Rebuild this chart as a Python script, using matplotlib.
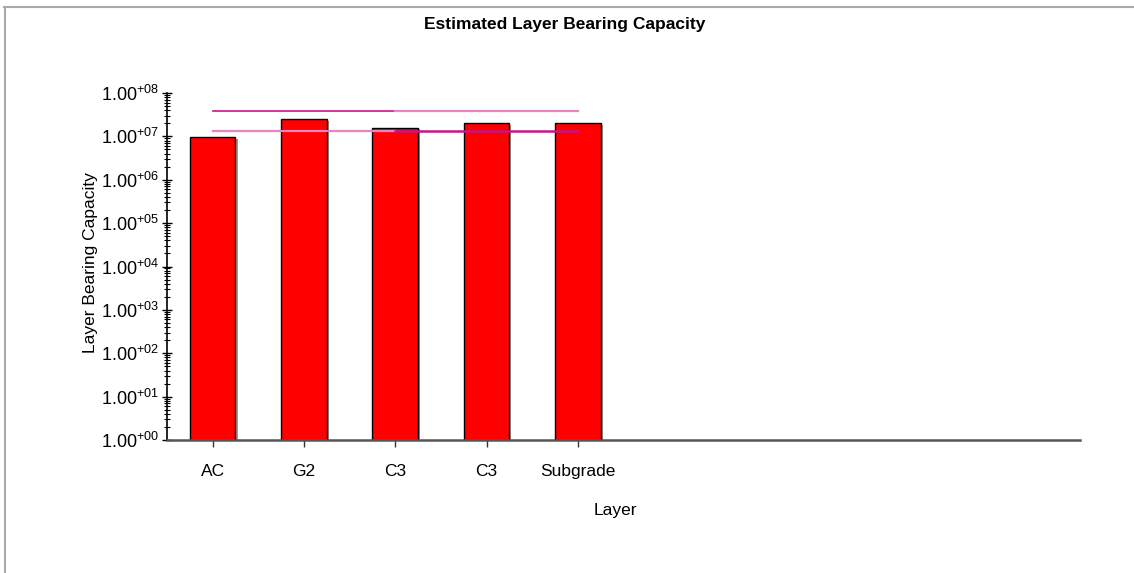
import matplotlib
matplotlib.use('Agg')
import matplotlib.pyplot as plt
import matplotlib.patheffects as pe
from matplotlib.lines import Line2D
from matplotlib.ticker import LogLocator, FixedLocator, NullFormatter

# capas del pavimento y capacidad estimada
capas = ['AC', 'G2', 'C3', 'C3', 'Subgrade']
capacidad = [9.5e6, 2.5e7, 1.6e7, 2.0e7, 2.0e7]

# lineas de referencia (dos tramos cada una)
ref_x = [0, 2, 4]
ref_alta = [3.8e7, 3.8e7, 3.8e7]
ref_baja = [1.35e7, 1.35e7, 1.35e7]

exponentes = [0, 1, 2, 3, 4, 5, 6, 7, 8]

plt.rcParams['font.family'] = ['Liberation Sans', 'DejaVu Sans']
plt.rcParams['mathtext.fontset'] = 'custom'
plt.rcParams['mathtext.rm'] = 'Liberation Sans'

fig = plt.figure(figsize=(11.34, 5.73), dpi=100)
ax = fig.add_axes([167/1134, 1 - 440/573, (1080 - 167)/1134, (440 - 93)/573])

x = list(range(len(capas)))
ax.bar(x, capacidad, width=0.5, color='#ff0000', edgecolor='black', linewidth=1.0,
       zorder=2,
       path_effects=[pe.SimplePatchShadow(offset=(1.5, -1.0), shadow_rgbFace='#999999', alpha=1.0),
                     pe.Normal()])

# tramos de las lineas
ax.plot(ref_x[:2], ref_alta[:2], color='#c71585', lw=1.2, zorder=3)
ax.plot(ref_x[1:], ref_alta[1:], color='#e685bf', lw=1.6, zorder=3)
ax.plot(ref_x[:2], ref_baja[:2], color='#e685bf', lw=1.6, zorder=3)
ax.plot(ref_x[1:], ref_baja[1:], color='#c71585', lw=1.8, zorder=3)

ax.set_yscale('log')
ax.set_ylim(1, 1e8)
ax.set_xlim(-0.5, 9.5)

ax.yaxis.set_major_locator(FixedLocator([10.0**e for e in exponentes]))
ax.set_yticklabels(['1.00$^{\\mathregular{+%02d}}$' % e for e in exponentes], fontsize=13)
ax.yaxis.set_minor_locator(LogLocator(base=10, subs=range(2, 10), numticks=50))
ax.yaxis.set_minor_formatter(NullFormatter())
ax.tick_params(axis='y', which='major', direction='inout', length=7, width=1, pad=2)
ax.tick_params(axis='y', which='minor', direction='inout', length=5, width=0.8)

ax.set_xticks(x)
ax.set_xticklabels(capas, fontsize=12.5)
ax.tick_params(axis='x', direction='out', length=5, width=1, pad=12, color='#333333')

for s in ['top', 'right']:
    ax.spines[s].set_visible(False)
ax.spines['left'].set_color('black')
ax.spines['left'].set_linewidth(1.2)
ax.spines['bottom'].set_color('#555555')
ax.spines['bottom'].set_linewidth(1.8)

fig.text(565/1134, 1 - 25/573, 'Estimated Layer Bearing Capacity', ha='center', va='center',
         fontsize=12.5, fontweight='bold')
fig.text(615/1134, 1 - 511/573, 'Layer', ha='center', va='center', fontsize=12.5)
fig.text(90/1134, 1 - 263/573, 'Layer Bearing Capacity', ha='center', va='center',
         rotation=90, fontsize=12.5)

# marco de la figura (arriba e izquierda)
fig.add_artist(Line2D([4/1134, 1], [1 - 7/573, 1 - 7/573], color='#aaaaaa', lw=1.5))
fig.add_artist(Line2D([5/1134, 5/1134], [0, 1 - 7/573], color='#aaaaaa', lw=1.5))

fig.savefig('out.png', dpi=100, facecolor='white')
